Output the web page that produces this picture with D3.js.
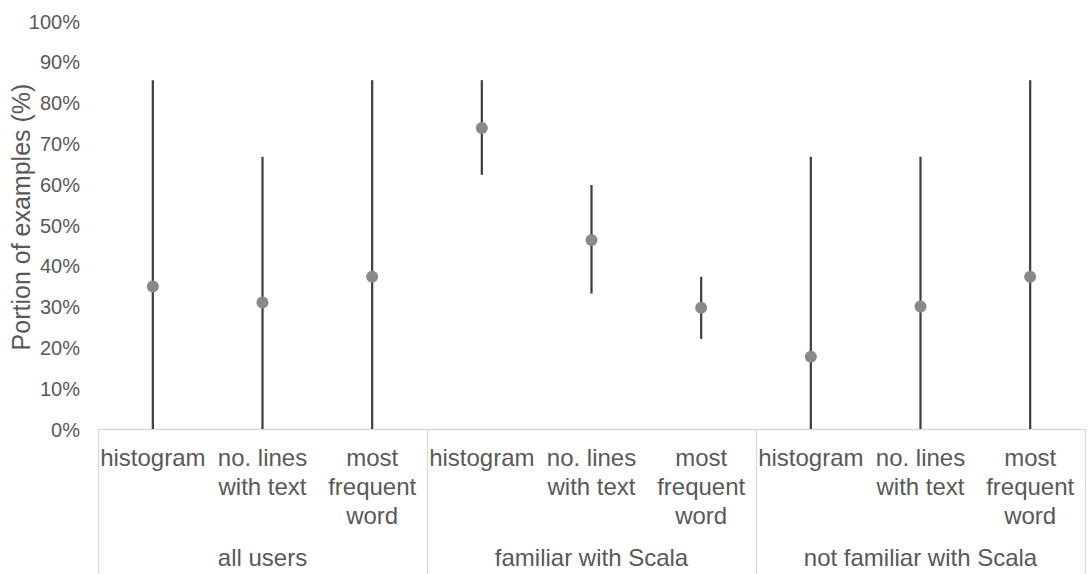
<!DOCTYPE html>
<html>
<head>
<meta charset="utf-8">
<script src="https://cdn.jsdelivr.net/npm/d3@7"></script>
<style>
  html, body { margin: 0; padding: 0; background: #fff; }
  svg { display: block; font-family: "Liberation Sans", Arial, sans-serif; }
</style>
</head>
<body>
<svg id="chart" width="1088" height="574"></svg>
<script>
const groups = ["all users", "familiar with Scala", "not familiar with Scala"];
const measures = [["histogram"], ["no. lines", "with text"], ["most", "frequent", "word"]];
const meanValues = [0.349, 0.310, 0.373, 0.738, 0.463, 0.297, 0.177, 0.300, 0.373];
const lowValues  = [0, 0, 0, 0.623, 0.332, 0.221, 0, 0, 0];
const highValues = [0.855, 0.667, 0.855, 0.855, 0.598, 0.373, 0.667, 0.667, 0.855];
const tickValues = [0, 0.1, 0.2, 0.3, 0.4, 0.5, 0.6, 0.7, 0.8, 0.9, 1.0];

const rows = [];
groups.forEach((g, gi) => measures.forEach((m, mi) => {
  const i = gi * measures.length + mi;
  rows.push({ key: g + "|" + mi, group: g, measure: m, mean: meanValues[i], low: lowValues[i], high: highValues[i] });
}));

const svg = d3.select("#chart");
const plotLeft = 98, plotRight = 1085, plotTop = 21, plotBase = 429, plotBottom = 574;

const x = d3.scaleBand().domain(rows.map(d => d.key)).range([plotLeft, plotRight]).padding(0);
const xg = d3.scaleBand().domain(groups).range([plotLeft, plotRight]).padding(0);
const y = d3.scaleLinear().domain([0, 1]).range([plotBase, plotTop]);

const textColor = "#595959";
const axisColor = "#d9d9d9";

// y axis tick labels
const yAxis = d3.axisLeft(y).tickValues(tickValues).tickFormat(d3.format(".0%")).tickSize(0).tickPadding(0);
const yg = svg.append("g").attr("transform", `translate(80,0)`).call(yAxis);
yg.select(".domain").remove();
yg.selectAll("text").attr("fill", textColor).style("font-size", "20px").style("font-family", "'Liberation Sans', Arial, sans-serif").attr("dy", "0.35em");

// y title
svg.append("text")
  .attr("transform", `translate(30,217) rotate(-90)`)
  .attr("text-anchor", "middle")
  .attr("fill", textColor)
  .style("font-size", "25px")
  .text("Portion of examples (%)");

// axis lines
svg.append("line").attr("x1", plotLeft).attr("x2", plotRight).attr("y1", plotBase + 0.5).attr("y2", plotBase + 0.5)
  .attr("stroke", axisColor).attr("stroke-width", 1.3);
const bounds = groups.map(g => xg(g)).concat([plotRight]);
svg.selectAll(".sep").data(bounds).enter().append("line")
  .attr("x1", d => d + 0.5).attr("x2", d => d + 0.5)
  .attr("y1", plotBase).attr("y2", plotBottom)
  .attr("stroke", axisColor).attr("stroke-width", 1.3);

// category labels
const cat = svg.selectAll(".cat").data(rows).enter().append("text")
  .attr("text-anchor", "middle")
  .attr("fill", textColor)
  .style("font-size", "24px");
cat.each(function(d) {
  const t = d3.select(this);
  d.measure.forEach((line, li) => {
    t.append("tspan").attr("x", x(d.key) + x.bandwidth() / 2).attr("y", 466 + li * 29).text(line);
  });
});

// group labels
svg.selectAll(".grp").data(groups).enter().append("text")
  .attr("x", d => xg(d) + xg.bandwidth() / 2)
  .attr("y", 566)
  .attr("text-anchor", "middle")
  .attr("fill", textColor)
  .style("font-size", "24px")
  .text(d => d);

// range lines
svg.selectAll(".rng").data(rows).enter().append("line")
  .attr("x1", d => x(d.key) + x.bandwidth() / 2)
  .attr("x2", d => x(d.key) + x.bandwidth() / 2)
  .attr("y1", d => y(d.low))
  .attr("y2", d => y(d.high))
  .attr("stroke", "#404040")
  .attr("stroke-width", 2.25);

// points
svg.selectAll(".pt").data(rows).enter().append("circle")
  .attr("cx", d => x(d.key) + x.bandwidth() / 2)
  .attr("cy", d => y(d.mean))
  .attr("r", 6)
  .attr("fill", "#898989");
</script>
</body>
</html>
